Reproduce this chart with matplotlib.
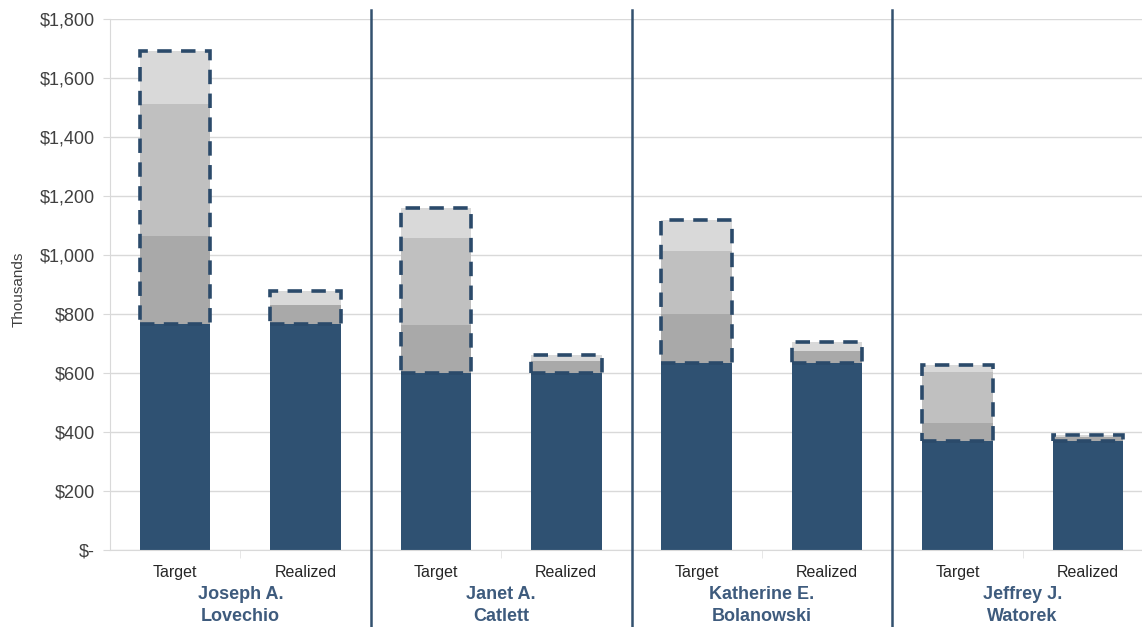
import matplotlib
matplotlib.use("Agg")
import matplotlib.pyplot as plt
import numpy as np

plt.rcParams['font.family'] = ['Liberation Sans', 'DejaVu Sans']

# ---- data (thousands of $) ----
names = ["Joseph A.\nLovechio", "Janet A.\nCatlett", "Katherine E.\nBolanowski", "Jeffrey J.\nWatorek"]
bar_labels = ["Target", "Realized"]
# Target components
t_base = [765, 600, 635, 370]
t_seg1 = [298, 162, 165, 62]    # dark gray
t_seg2 = [448, 296, 213, 173]   # mid gray
t_seg3 = [180, 102, 107, 21]    # light gray
# Realized components
r_base = [765, 600, 635, 370]
r_seg1 = [67, 40, 40, 12]       # dark gray
r_seg2 = [45, 20, 30, 8]        # light gray
yticks = [0, 200, 400, 600, 800, 1000, 1200, 1400, 1600, 1800]
ytick_labels = ["$-", "$200", "$400", "$600", "$800", "$1,000", "$1,200", "$1,400", "$1,600", "$1,800"]

BLUE = "#2F5172"
DG = "#A9A9A9"
MG = "#C0C0C0"
LG = "#D9D9D9"
EDGE = "#2B4A6A"

W, H = 1142, 627
fig = plt.figure(figsize=(W / 100, H / 100), dpi=100)
ax = fig.add_axes([110 / W, (H - 550) / H, 1043 / W, 531 / H])

n = len(names)
xt = np.arange(n) * 2
xr = xt + 1
bw = 0.54

# Target stacks
b = np.array(t_base, float)
ax.bar(xt, t_base, bw, color=BLUE, zorder=2)
for seg, c in [(t_seg1, DG), (t_seg2, MG), (t_seg3, LG)]:
    ax.bar(xt, seg, bw, bottom=b, color=c, zorder=2)
    b = b + np.array(seg)
t_tot = b
# Realized stacks
br = np.array(r_base, float)
ax.bar(xr, r_base, bw, color=BLUE, zorder=2)
for seg, c in [(r_seg1, DG), (r_seg2, LG)]:
    ax.bar(xr, seg, bw, bottom=br, color=c, zorder=2)
    br = br + np.array(seg)
r_tot = br

# dashed outlines around variable parts
for x, base, tot in list(zip(xt, t_base, t_tot)) + list(zip(xr, r_base, r_tot)):
    ax.bar(x, tot - base, bw, bottom=base, fill=False, edgecolor=EDGE,
           linewidth=2.6, linestyle=(0, (4, 2.6)), zorder=3)

ax.set_xlim(-0.5, 2 * n - 0.5)
ax.set_ylim(0, 1800)
ax.set_yticks(yticks)
ax.set_yticklabels(ytick_labels, fontsize=13, color="#404040")
ax.yaxis.grid(True, color="#D9D9D9", linewidth=1)
ax.set_axisbelow(True)
ax.tick_params(axis='y', length=5, color="#D9D9D9", pad=6)
for s in ["top", "right"]:
    ax.spines[s].set_visible(False)
ax.spines["left"].set_color("#D9D9D9")
ax.spines["bottom"].set_color("#D9D9D9")

ax.set_xticks(np.arange(2 * n))
ax.set_xticklabels(bar_labels * n, fontsize=11.5, color="#262626")
ax.tick_params(axis='x', length=0, pad=11)
# faint ticks between target/realized
ax.set_xticks(xt + 0.5, minor=True)
ax.tick_params(axis='x', which='minor', length=6, color="#E3E3E3")

ax.set_ylabel("Thousands", fontsize=11, color="#404040")
ax.yaxis.set_label_coords(-0.081, 0.49)

trans = ax.get_xaxis_transform()
for i, nm in enumerate(names):
    ax.text(xt[i] + 0.5, -36 / 531, nm, transform=trans, ha='center', va='top',
            fontsize=13, fontweight='bold', color="#3E5B7D", linespacing=1.35)

for k in range(1, n):
    ax.plot([2 * k - 0.5] * 2, [-77 / 531, 1 + 9 / 531], transform=trans,
            color="#33516F", linewidth=1.8, clip_on=False, zorder=4)

fig.savefig("out.png", dpi=100)
